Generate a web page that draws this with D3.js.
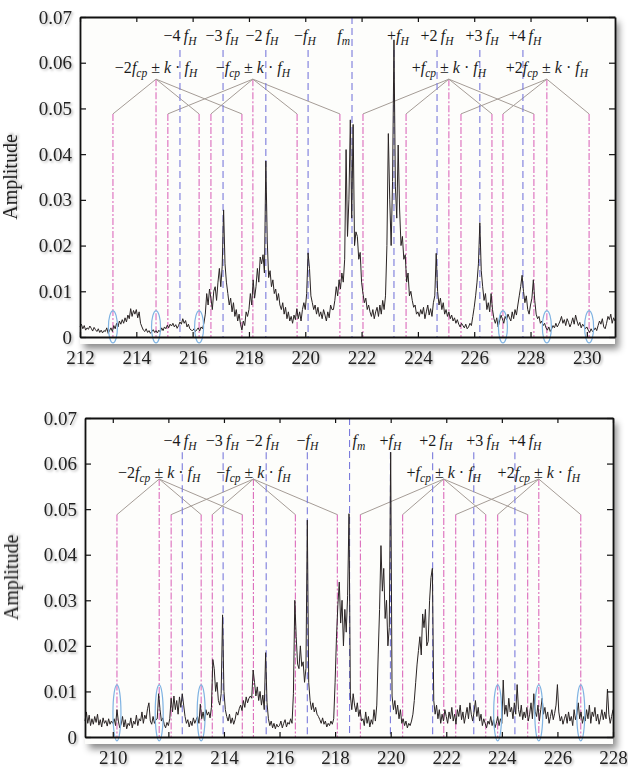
<!DOCTYPE html>
<html>
<head>
<meta charset="utf-8">
<script src="https://cdn.jsdelivr.net/npm/d3@7"></script>
<style>
body { margin: 0; background: #fff; }
svg { display: block; }
text { font-family: "Liberation Serif", "DejaVu Serif", serif; }
</style>
</head>
<body>
<svg id="chart" width="628" height="769"></svg>
<script>
// amplitude spectra, in units of 1e-4, one value every 0.05 on the frequency axis
var step = 0.05;

var topStart = 212;
var topAmp = [
  22, 28, 18, 25, 15, 20, 17, 24, 19, 13, 21, 16, 12, 18, 10, 15, 9, 14, 12, 20,
  8, 14, 20, 12, 25, 18, 30, 22, 35, 28, 38, 30, 42, 33, 48, 40, 62, 45, 58, 50,
  60, 42, 55, 30, 22, 15, 12, 18, 10, 14, 8, 12, 16, 10, 14, 9, 15, 11, 20, 14,
  22, 18, 26, 20, 28, 24, 30, 22, 27, 19, 25, 33, 28, 40, 30, 36, 22, 28, 18, 15,
  14, 18, 12, 16, 20, 13, 22, 18, 30, 50, 95, 70, 105, 85, 60, 100, 110, 80, 120, 150,
  110, 155, 278, 160, 120, 95, 70, 85, 55, 75, 45, 60, 35, 50, 28, 15, 35, 25, 55, 45,
  60, 95, 70, 125, 85, 110, 150, 120, 175, 160, 180, 140, 385, 210, 130, 145, 110, 125, 95, 105,
  80, 95, 70, 60, 75, 50, 65, 40, 55, 35, 45, 30, 48, 38, 62, 40, 55, 35, 60, 75,
  60, 95, 184, 150, 90, 75, 60, 70, 50, 65, 45, 55, 40, 60, 48, 35, 55, 42, 70, 60,
  60, 80, 110, 90, 125, 105, 140, 120, 170, 410, 220, 300, 475, 260, 465, 200, 230, 220, 170, 185,
  120, 95, 75, 85, 60, 70, 55, 45, 60, 40, 55, 65, 45, 70, 50, 80, 60, 90, 200, 445,
  300, 200, 340, 650, 330, 260, 420, 280, 200, 220, 170, 180, 120, 140, 90, 100, 80, 65, 70, 50,
  55, 45, 60, 50, 65, 40, 55, 70, 48, 62, 45, 75, 90, 183, 100, 70, 85, 60, 75, 50,
  60, 45, 55, 40, 48, 35, 42, 30, 38, 28, 22, 30, 25, 20, 28, 18, 22, 30, 25, 45,
  65, 90, 120, 160, 250, 145, 110, 80, 95, 60, 75, 55, 95, 60, 40, 30, 42, 22, 35, 48,
  40, 30, 45, 38, 50, 42, 35, 55, 40, 60, 48, 70, 90, 110, 135, 100, 75, 90, 60, 50,
  70, 85, 125, 80, 50, 40, 45, 30, 35, 25, 30, 20, 15, 22, 12, 18, 25, 20, 30, 22,
  28, 35, 45, 30, 38, 25, 40, 32, 22, 30, 42, 28, 48, 35, 25, 32, 20, 28, 24, 18,
  22, 15, 10, 18, 12, 15, 20, 14, 25, 35, 28, 40, 22, 18, 30, 45, 38, 50, 30, 42,
  35
];

var botStart = 209;
var botAmp = [
  35, 55, 30, 48, 25, 40, 28, 45, 32, 50, 26, 38, 22, 42, 30, 36, 24, 40, 28, 35,
  30, 40, 25, 60, 35, 20, 28, 45, 22, 38, 18, 30, 25, 42, 20, 35, 28, 48, 25, 40,
  35, 55, 30, 48, 40, 62, 75, 35, 28, 45, 30, 38, 40, 95, 60, 35, 42, 28, 20, 32,
  25, 40, 85, 55, 90, 60, 80, 50, 88, 65, 95, 70, 45, 30, 38, 22, 35, 25, 42, 30,
  38, 45, 30, 72, 40, 55, 35, 60, 48, 55, 42, 65, 170, 150, 100, 120, 80, 70, 95, 268,
  100, 60, 45, 35, 50, 30, 42, 28, 38, 55, 48, 62, 70, 58, 80, 65, 88, 75, 85, 90,
  85, 147, 120, 90, 110, 80, 100, 70, 92, 60, 185, 75, 40, 25, 35, 20, 30, 18, 28, 22,
  25, 35, 20, 30, 38, 22, 32, 28, 40, 30, 95, 300, 220, 160, 150, 200, 155, 165, 120, 150,
  476, 120, 80, 60, 75, 55, 65, 50, 45, 38, 30, 42, 28, 35, 22, 30, 25, 35, 28, 40,
  120, 220, 290, 340, 250, 300, 200, 280, 230, 310, 490, 90, 60, 95, 70, 55, 75, 45, 60, 35,
  40, 25, 55, 30, 45, 22, 38, 28, 60, 35, 70, 180, 280, 420, 320, 370, 260, 300, 200, 240,
  625, 90, 60, 80, 50, 70, 40, 60, 30, 40, 25, 35, 20, 30, 25, 35, 50, 80, 120, 160,
  190, 220, 180, 270, 240, 280, 200, 210, 300, 350, 370, 80, 50, 70, 40, 60, 30, 50, 35, 60,
  45, 30, 55, 40, 65, 35, 50, 28, 60, 45, 70, 38, 55, 30, 48, 65, 40, 75, 50, 35,
  55, 80, 45, 65, 35, 50, 25, 40, 30, 20, 35, 28, 45, 25, 38, 20, 30, 45, 25, 40,
  30, 125, 50, 70, 45, 85, 55, 65, 40, 75, 50, 115, 60, 45, 70, 38, 55, 42, 65, 35,
  50, 75, 40, 95, 55, 45, 70, 35, 60, 85, 50, 65, 40, 55, 30, 45, 60, 38, 52, 70,
  115, 55, 35, 45, 28, 40, 50, 30, 55, 35, 45, 25, 60, 38, 50, 75, 40, 55, 30, 45,
  35, 60, 40, 70, 30, 55, 45, 65, 35, 50, 28, 42, 60, 38, 55, 40, 105, 50, 30, 45,
  60
];

var yTicks = [0, 0.01, 0.02, 0.03, 0.04, 0.05, 0.06, 0.07];
var topTicks = [212, 214, 216, 218, 220, 222, 224, 226, 228, 230];
var botTicks = [210, 212, 214, 216, 218, 220, 222, 224, 226, 228];

// harmonic lines (blue): -4fH .. -fH, fm, +fH .. +4fH
var harmPrefix = ["\u22124", "\u22123", "\u22122", "\u2212", "", "+", "+2", "+3", "+4"];
var topHarm = [215.55, 217.08, 218.60, 220.10, 221.66, 223.15, 224.68, 226.20, 227.73];
var botHarm = [212.50, 213.97, 215.52, 217.00, 218.52, 219.99, 221.51, 222.99, 224.47];
var topHarmLabel = [215.55, 217.04, 218.46, 219.99, 221.59, 223.29, 224.68, 226.28, 227.80];
var botHarmLabel = [212.42, 213.94, 215.38, 217.00, 218.62, 219.99, 221.62, 223.31, 224.83];

// sideband groups (pink): -2fcp, -fcp, +fcp, +2fcp
var groupPrefix = ["\u22122", "\u2212", "+", "+2"];
var topApex = [214.70, 218.14, 225.10, 228.58];
var topBranch = [
  [213.17, 216.23, 217.75],
  [215.12, 216.65, 219.71, 221.23],
  [222.05, 223.58, 226.63, 228.12],
  [225.53, 227.02, 230.08]
];
var botApex = [211.67, 215.06, 221.91, 225.33];
var botBranch = [
  [210.15, 213.18, 214.66],
  [212.10, 213.58, 216.57, 218.08],
  [218.91, 220.43, 223.42, 224.93],
  [222.34, 223.85, 226.84]
];

// circled sidebands
var topCircled = [213.17, 214.70, 216.23, 227.02, 228.58, 230.08];
var botCircled = [210.15, 211.67, 213.18, 223.85, 225.33, 226.84];

var serif = "'Liberation Serif', 'DejaVu Serif', serif";

var svg = d3.select("#chart");
var defs = svg.append("defs");
defs.append("filter").attr("id", "shadow")
    .attr("x", "-5%").attr("y", "-5%").attr("width", "115%").attr("height", "120%")
  .append("feDropShadow")
    .attr("dx", 4).attr("dy", 5).attr("stdDeviation", 3.5)
    .attr("flood-color", "#000").attr("flood-opacity", 0.45);
defs.append("filter").attr("id", "tshadow")
    .attr("x", "-20%").attr("y", "-20%").attr("width", "150%").attr("height", "150%")
  .append("feDropShadow")
    .attr("dx", 1.5).attr("dy", 1.5).attr("stdDeviation", 1.3)
    .attr("flood-color", "#000").attr("flood-opacity", 0.3);

// writes a math label made of [text, kind] pieces; kind n = upright, i = italic, s = italic subscript
function mathText(sel, parts, size) {
    var down = false;
    parts.forEach(function(p) {
        var t = sel.append("tspan").text(p[0]);
        if (p[1] == "i" || p[1] == "s") t.attr("font-style", "italic");
        if (p[1] == "s") {
            t.attr("font-size", size * 0.72);
            if (!down) { t.attr("dy", size * 0.25); down = true; }
        } else if (down) {
            t.attr("dy", -size * 0.25); down = false;
        }
    });
}

function panel(p) {
    var x = d3.scaleLinear().domain(p.domain).range([p.left, p.right]);
    var y = d3.scaleLinear().domain([0, 0.07]).range([p.bottom, p.top]);
    var g = svg.append("g");

    g.append("rect")
        .attr("x", p.left).attr("y", p.top)
        .attr("width", p.right - p.left).attr("height", p.bottom - p.top + 7)
        .attr("fill", "#fdfdfb")
        .attr("filter", "url(#shadow)");

    // pink sideband lines and gray connectors
    p.apex.forEach(function(a, gi) {
        var ends = p.branch[gi];
        g.append("line")
            .attr("x1", x(a)).attr("x2", x(a))
            .attr("y1", y(p.apexLevel)).attr("y2", y(0))
            .attr("class", "pink");
        ends.forEach(function(b) {
            g.append("line")
                .attr("x1", x(b)).attr("x2", x(b))
                .attr("y1", y(p.branchLevel)).attr("y2", y(0))
                .attr("class", "pink");
        });
    });
    p.apex.forEach(function(a, gi) {
        p.branch[gi].forEach(function(b) {
            g.append("line")
                .attr("x1", x(a)).attr("y1", y(p.apexLevel))
                .attr("x2", x(b)).attr("y2", y(p.branchLevel))
                .attr("stroke", "#a59c96").attr("stroke-width", 1);
        });
    });
    g.selectAll("line.pink")
        .attr("stroke", "#dc6cbc").attr("stroke-width", 1.1)
        .attr("stroke-dasharray", "7,2,2,2");

    // blue harmonic lines
    g.selectAll("line.harm").data(p.harm).enter().append("line")
        .attr("class", "harm")
        .attr("x1", function(d) { return x(d); })
        .attr("x2", function(d) { return x(d); })
        .attr("y1", function(d, i) { return i == 4 ? p.top : y(p.harmTop); })
        .attr("y2", y(0))
        .attr("stroke", "#7b7bdc").attr("stroke-width", 1.1)
        .attr("stroke-dasharray", "7,4");

    // spectrum
    var pts = p.amp.map(function(v, i) { return {f: p.start + i * step, a: v / 10000}; });
    var line = d3.line()
        .x(function(d) { return x(d.f); })
        .y(function(d) { return y(d.a); });
    g.append("path")
        .datum(pts)
        .attr("d", line)
        .attr("fill", "none")
        .attr("stroke", "#2a2424")
        .attr("stroke-width", 1)
        .attr("stroke-linejoin", "round");

    // circles around weak sidebands
    g.selectAll("ellipse").data(p.circled).enter().append("ellipse")
        .attr("cx", function(d) { return x(d); })
        .attr("cy", y(p.circleLevel))
        .attr("rx", p.rx).attr("ry", p.ry)
        .attr("fill", "none")
        .attr("stroke", "#7fb3e2").attr("stroke-width", 1.2);

    // axes (box with inward ticks)
    var fmtY = function(d) { return d == 0 ? "0" : d3.format(".2f")(d); };
    var axL = g.append("g").attr("transform", "translate(" + p.left + ",0)")
        .call(d3.axisLeft(y).tickValues(yTicks).tickFormat(fmtY).tickSize(-6).tickSizeOuter(0).tickPadding(8));
    var axB = g.append("g").attr("transform", "translate(0," + p.bottom + ")")
        .call(d3.axisBottom(x).tickValues(p.ticks).tickFormat(d3.format("d")).tickSize(-5).tickSizeOuter(0).tickPadding(14));
    var axT = g.append("g").attr("transform", "translate(0," + p.top + ")")
        .call(d3.axisTop(x).tickValues(p.ticks).tickFormat("").tickSize(-5).tickSizeOuter(0));
    var axR = g.append("g").attr("transform", "translate(" + p.right + ",0)")
        .call(d3.axisRight(y).tickValues(yTicks).tickFormat("").tickSize(-6).tickSizeOuter(0));
    [axL, axB, axT, axR].forEach(function(a) {
        a.attr("font-family", serif).attr("font-size", 19);
        a.select(".domain").attr("stroke", "#111").attr("stroke-width", 1.8);
        a.selectAll(".tick line").attr("stroke", "#111").attr("stroke-width", 1.2);
        a.selectAll("text")
            .attr("fill", "#222")
            .style("font-family", serif)
            .style("font-size", "19px")
            .attr("filter", "url(#tshadow)");
    });

    g.append("text")
        .attr("transform", "translate(" + p.ylabX + "," + ((p.top + p.bottom) / 2) + ") rotate(-90)")
        .attr("text-anchor", "middle")
        .attr("fill", "#222")
        .attr("font-size", 20)
        .attr("filter", "url(#tshadow)")
        .text("Amplitude");

    // harmonic labels
    p.harmLabel.forEach(function(f, i) {
        var t = g.append("text")
            .attr("x", i == 4 ? x(p.harm[4]) + p.fmShift : x(f))
            .attr("y", y(p.harmBase))
            .attr("text-anchor", i == 4 ? p.fmAnchor : "middle")
            .attr("font-size", 16)
            .attr("fill", "#1a1a1a");
        var parts = [];
        if (harmPrefix[i]) parts.push([harmPrefix[i] + (harmPrefix[i].length > 1 ? "\u2009" : ""), "n"]);
        parts.push(["f", "i"]);
        parts.push([i == 4 ? "m" : "H", "s"]);
        mathText(t, parts, 16);
    });

    // group labels
    p.apex.forEach(function(a, gi) {
        var t = g.append("text")
            .attr("x", x(a)).attr("y", y(p.groupBase))
            .attr("text-anchor", "middle")
            .attr("font-size", 16)
            .attr("fill", "#1a1a1a");
        mathText(t, [[groupPrefix[gi], "n"], ["f", "i"], ["cp", "s"], [" \u00b1 ", "n"],
                     ["k", "i"], [" \u00b7 ", "n"], ["f", "i"], ["H", "s"]], 16);
    });
}

panel({
    left: 80, right: 615, top: 17, bottom: 337, ylabX: 17,
    domain: [212, 231], ticks: topTicks,
    start: topStart, amp: topAmp,
    harm: topHarm, harmLabel: topHarmLabel, fmAnchor: "end", fmShift: -2,
    apex: topApex, branch: topBranch, circled: topCircled,
    apexLevel: 0.0564, branchLevel: 0.0488, harmTop: 0.0628,
    harmBase: 0.0648, groupBase: 0.0578,
    circleLevel: 0.0022, rx: 4.5, ry: 16
});

panel({
    left: 85, right: 613, top: 418, bottom: 737, ylabX: 18,
    domain: [209, 228], ticks: botTicks,
    start: botStart, amp: botAmp,
    harm: botHarm, harmLabel: botHarmLabel, fmAnchor: "start", fmShift: 3,
    apex: botApex, branch: botBranch, circled: botCircled,
    apexLevel: 0.0566, branchLevel: 0.0488, harmTop: 0.0625,
    harmBase: 0.0639, groupBase: 0.0568,
    circleLevel: 0.0053, rx: 4, ry: 28
});
</script>
</body>
</html>
